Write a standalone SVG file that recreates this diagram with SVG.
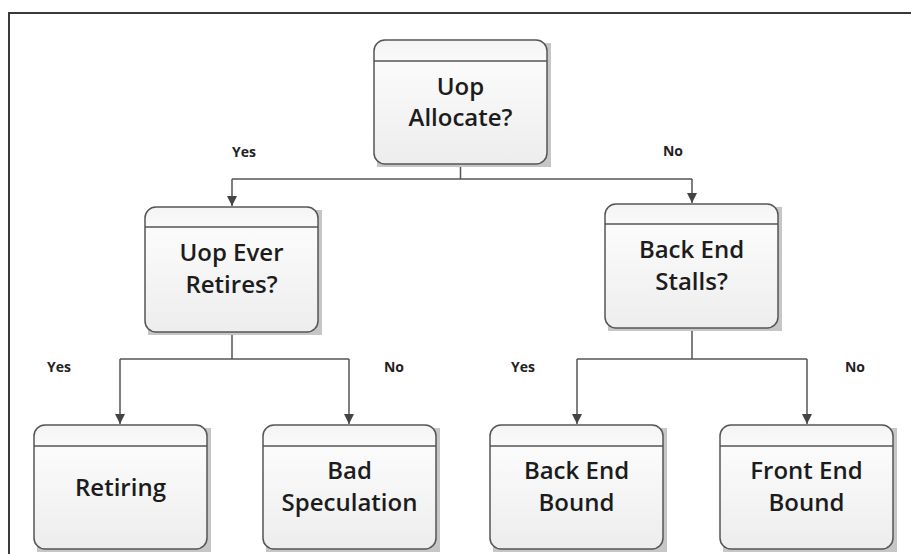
<svg xmlns="http://www.w3.org/2000/svg" width="911" height="554" viewBox="0 0 911 554">
  <style>
    .frame { fill: none; stroke: #3a3a3a; stroke-width: 2; }
    .shadow { fill: #c6c6c6; }
    .box { fill: url(#bodyFill); stroke: #555; stroke-width: 1.5; }
    .hdr { stroke: #555; stroke-width: 1.5; }
    .conn { fill: none; stroke: #555; stroke-width: 1.5; }
    .title { font-family: "Open Sans", "Liberation Sans", sans-serif; font-size: 24px; font-weight: 600; fill: #1c1c1c; text-anchor: middle; }
    .lbl { font-family: "Open Sans", "Liberation Sans", sans-serif; font-size: 14px; font-weight: bold; fill: #222; text-anchor: middle; }
  </style>
  <defs>
    <linearGradient id="bodyFill" x1="0" y1="0" x2="0" y2="1">
      <stop offset="0" stop-color="#f4f4f4"/>
      <stop offset="0.2" stop-color="#fbfbfb"/>
      <stop offset="1" stop-color="#ededed"/>
    </linearGradient>
    <marker id="arrow" markerUnits="userSpaceOnUse" markerWidth="10" markerHeight="12" refX="10" refY="5" orient="auto">
      <path d="M0,0 L10,5 L0,10 Z" fill="#444"/>
    </marker>
  </defs>

  <rect width="911" height="554" fill="#fff"/>
  <path class="frame" d="M9,554 V13 H911"/>

  <!-- connectors -->
  <g id="connectors">
    <path class="conn" d="M460.5,164 V179 M232,179 H692"/>
    <path class="conn" d="M232,179 V206" marker-end="url(#arrow)"/>
    <path class="conn" d="M692,179 V203" marker-end="url(#arrow)"/>
    <path class="conn" d="M232,332 V359 M120,359 H349"/>
    <path class="conn" d="M120,359 V424" marker-end="url(#arrow)"/>
    <path class="conn" d="M349,359 V424" marker-end="url(#arrow)"/>
    <path class="conn" d="M692,328 V359 M577,359 H807"/>
    <path class="conn" d="M577,359 V424" marker-end="url(#arrow)"/>
    <path class="conn" d="M807,359 V424" marker-end="url(#arrow)"/>
  </g>

  <!-- branch labels -->
  <g id="labels">
    <text class="lbl" x="244" y="157">Yes</text>
    <text class="lbl" x="673" y="156">No</text>
    <text class="lbl" x="59" y="372">Yes</text>
    <text class="lbl" x="394" y="372">No</text>
    <text class="lbl" x="523" y="372">Yes</text>
    <text class="lbl" x="855" y="372">No</text>
  </g>

  <g id="uop-allocate">
    <rect class="shadow" x="377" y="43" width="174" height="124"/>
    <rect class="box" x="374" y="40" width="173" height="124" rx="11"/>
    <line class="hdr" x1="374" y1="61" x2="547" y2="61"/>
    <text class="title" x="460.5" y="95">Uop</text>
    <text class="title" x="460.5" y="126">Allocate?</text>
  </g>

  <g id="uop-ever-retires">
    <rect class="shadow" x="148" y="210" width="174" height="125"/>
    <rect class="box" x="145" y="207" width="173" height="125" rx="11"/>
    <line class="hdr" x1="145" y1="227" x2="318" y2="227"/>
    <text class="title" x="231.5" y="261">Uop Ever</text>
    <text class="title" x="231.5" y="293">Retires?</text>
  </g>

  <g id="back-end-stalls">
    <rect class="shadow" x="608" y="207" width="174" height="124"/>
    <rect class="box" x="605" y="204" width="173" height="124" rx="11"/>
    <line class="hdr" x1="605" y1="224" x2="778" y2="224"/>
    <text class="title" x="691.5" y="258">Back End</text>
    <text class="title" x="691.5" y="290">Stalls?</text>
  </g>

  <g id="retiring">
    <rect class="shadow" x="37" y="428" width="174" height="124"/>
    <rect class="box" x="34" y="425" width="173" height="124" rx="11"/>
    <line class="hdr" x1="34" y1="446" x2="207" y2="446"/>
    <text class="title" x="120.5" y="496">Retiring</text>
  </g>

  <g id="bad-speculation">
    <rect class="shadow" x="266" y="428" width="174" height="124"/>
    <rect class="box" x="263" y="425" width="173" height="124" rx="11"/>
    <line class="hdr" x1="263" y1="446" x2="436" y2="446"/>
    <text class="title" x="349.5" y="479">Bad</text>
    <text class="title" x="349.5" y="511">Speculation</text>
  </g>

  <g id="back-end-bound">
    <rect class="shadow" x="493" y="428" width="174" height="124"/>
    <rect class="box" x="490" y="425" width="173" height="124" rx="11"/>
    <line class="hdr" x1="490" y1="446" x2="663" y2="446"/>
    <text class="title" x="576.5" y="479">Back End</text>
    <text class="title" x="576.5" y="511">Bound</text>
  </g>

  <g id="front-end-bound">
    <rect class="shadow" x="723" y="428" width="174" height="124"/>
    <rect class="box" x="720" y="425" width="173" height="124" rx="11"/>
    <line class="hdr" x1="720" y1="446" x2="893" y2="446"/>
    <text class="title" x="806.5" y="479">Front End</text>
    <text class="title" x="806.5" y="511">Bound</text>
  </g>
</svg>
